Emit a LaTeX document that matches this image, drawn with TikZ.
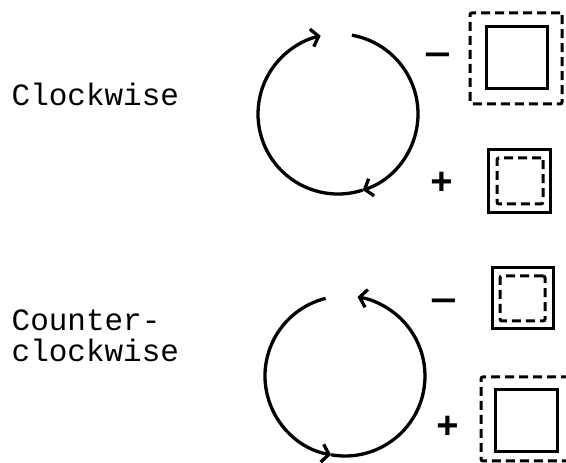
\documentclass[tikz,border=0pt]{standalone}
\usepackage{fontspec}
\setmonofont{Liberation Mono}
\usetikzlibrary{arrows.meta,positioning}

\tikzset{
  solidbox/.style={draw, line width=3pt, inner sep=0pt},
  dashbox/.style={draw, line width=3pt, inner sep=0pt, dash pattern=on 9pt off 5pt, rounded corners=2pt},
  sign/.style={font=\ttfamily\bfseries\fontsize{38}{38}\selectfont, inner sep=0pt},
  sense/.style={font=\ttfamily\fontsize{31}{31}\selectfont, inner sep=0pt, align=left}
}

\begin{document}
\begin{tikzpicture}[x=1pt, y=1pt, line width=3.3pt, >={Straight Barb[length=7pt,width=18pt]}]

\clip (0,0) rectangle (566,463);

% labels
\node[sense, anchor=base west] (cwtext) at (10,357) {Clockwise};
\node[sense, anchor=base west] (ccwtext) at (10,101) {Counter-\\clockwise};

% clockwise circle
\coordinate (cw) at (338,349);
\draw[->] ([shift={(80:80)}]cw) arc[start angle=80, end angle=-72, radius=80];
\draw[->] ([shift={(-72:80)}]cw) arc[start angle=-72, end angle=-257.5, radius=80];

% counterclockwise circle
\coordinate (ccw) at (345,87);
\draw[->] ([shift={(104:80)}]ccw) arc[start angle=104, end angle=260, radius=80];
\draw[->] ([shift={(260:80)}]ccw) arc[start angle=260, end angle=441, radius=80];

% signs
\node[sign] (m1) at (438,404) {\textemdash};
\node[sign] (p1) at (442,280) {+};
\node[sign] (m2) at (444,158) {\textemdash};
\node[sign] (p2) at (448,36) {+};

% boxes
\node[dashbox, minimum width=92pt, minimum height=91pt] (b1) at (516,404.5) {};
\node[solidbox, minimum width=61pt, minimum height=62pt] (c1) at (516.5,405) {};
\node[solidbox, minimum width=62pt, minimum height=63pt] (b2) at (519,281.5) {};
\node[dashbox, minimum width=46pt, minimum height=46pt] (c2) at (520,282) {};
\node[solidbox, minimum width=61pt, minimum height=61pt] (b3) at (522.5,164.5) {};
\node[dashbox, minimum width=45pt, minimum height=45pt] (c3) at (522.5,164.5) {};
\node[dashbox, minimum width=91pt, minimum height=84pt] (b4) at (526.5,44) {};
\node[solidbox, minimum width=62pt, minimum height=62pt] (c4) at (526,42) {};

\end{tikzpicture}
\end{document}
